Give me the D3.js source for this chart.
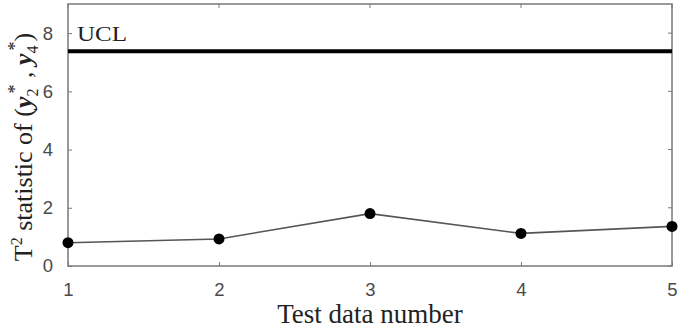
<!DOCTYPE html>
<html lang="en">
<head>
  <meta charset="UTF-8" />
  <title>T2 statistic</title>
  <script src="https://d3js.org/d3.v7.min.js"></script>
  <style>
    body { margin: 0; background: #fff; }
    svg { display: block; }
    .tick text { font-family: "Liberation Sans", Arial, sans-serif; font-size: 18.5px; fill: #4a4a4a; }
    .lbl { font-family: "Liberation Serif", "Times New Roman", serif; fill: #222; }
  </style>
</head>
<body>
  <svg id="chart" width="685" height="331"></svg>
  <script>
    const testNumbers = [1, 2, 3, 4, 5];
    const t2Values = [0.80, 0.93, 1.80, 1.12, 1.36];
    const uclValue = 7.38;
    const yTicks = [0, 2, 4, 6, 8];

    const margin = { top: 4, right: 13, bottom: 65, left: 68 };
    const width = 685, height = 331;
    const svg = d3.select("#chart");

    const x = d3.scaleLinear().domain([1, 5]).range([margin.left, width - margin.right]);
    const y = d3.scaleLinear().domain([0, 9]).range([height - margin.bottom, margin.top]);

    const axisColor = "#7a7a7a";

    // box
    svg.append("rect")
      .attr("x", x(1)).attr("y", y(9))
      .attr("width", x(5) - x(1)).attr("height", y(0) - y(9))
      .attr("fill", "none").attr("stroke", axisColor).attr("stroke-width", 1.5);

    // bottom axis, ticks inside
    const xAxis = svg.append("g")
      .attr("transform", `translate(0,${y(0)})`)
      .call(d3.axisBottom(x).tickValues(testNumbers).tickFormat(d3.format("d")).tickSizeInner(-4).tickSizeOuter(0).tickPadding(17));
    xAxis.select(".domain").remove();
    xAxis.selectAll("line").attr("stroke", axisColor);

    const yAxis = svg.append("g")
      .attr("transform", `translate(${x(1)},0)`)
      .call(d3.axisLeft(y).tickValues(yTicks).tickSizeInner(-4).tickSizeOuter(0).tickPadding(15));
    yAxis.select(".domain").remove();
    yAxis.selectAll("line").attr("stroke", axisColor);

    // mirrored ticks top/right
    svg.append("g").selectAll("line").data(testNumbers).join("line")
      .attr("x1", d => x(d)).attr("x2", d => x(d))
      .attr("y1", y(9)).attr("y2", y(9) + 4)
      .attr("stroke", axisColor);
    svg.append("g").selectAll("line").data(yTicks).join("line")
      .attr("x1", x(5)).attr("x2", x(5) - 4)
      .attr("y1", d => y(d)).attr("y2", d => y(d))
      .attr("stroke", axisColor);

    // UCL
    svg.append("line")
      .attr("x1", x(1)).attr("x2", x(5))
      .attr("y1", y(uclValue)).attr("y2", y(uclValue))
      .attr("stroke", "#000").attr("stroke-width", 4);
    svg.append("text").attr("class", "lbl")
      .attr("font-size", 20)
      .attr("x", x(1) + 9).attr("y", y(uclValue) - 10)
      .attr("textLength", 50).attr("lengthAdjust", "spacingAndGlyphs")
      .text("UCL");

    // series
    const pts = testNumbers.map((d, i) => [d, t2Values[i]]);
    svg.append("path")
      .datum(pts)
      .attr("fill", "none").attr("stroke", "#555").attr("stroke-width", 1.6)
      .attr("d", d3.line().x(d => x(d[0])).y(d => y(d[1])));
    svg.append("g").selectAll("circle").data(pts).join("circle")
      .attr("cx", d => x(d[0])).attr("cy", d => y(d[1])).attr("r", 5.5)
      .attr("fill", "#000");

    // x label
    svg.append("text").attr("class", "lbl")
      .attr("font-size", 27)
      .attr("x", 370).attr("y", 323)
      .attr("text-anchor", "middle")
      .text("Test data number");

    // y label
    const yl = svg.append("text").attr("class", "lbl")
      .attr("font-size", 26)
      .attr("transform", `translate(32,147) rotate(-90)`)
      .attr("text-anchor", "middle");
    yl.append("tspan").text("T");
    yl.append("tspan").attr("font-size", 16).attr("dy", -10).text("2");
    yl.append("tspan").attr("dy", 10).text(" statistic of (");
    yl.append("tspan").attr("font-style", "italic").attr("font-weight", "bold").text("y");
    yl.append("tspan").attr("font-size", 16).attr("dy", 6).text("2");
    yl.append("tspan").attr("font-size", 18).attr("dy", -17).attr("dx", -5).text("*");
    yl.append("tspan").attr("dy", 11).text(" , ");
    yl.append("tspan").attr("font-style", "italic").attr("font-weight", "bold").text("y");
    yl.append("tspan").attr("font-size", 16).attr("dy", 6).text("4");
    yl.append("tspan").attr("font-size", 18).attr("dy", -17).attr("dx", -5).text("*");
    yl.append("tspan").attr("dy", 11).text(")");
  </script>
</body>
</html>
